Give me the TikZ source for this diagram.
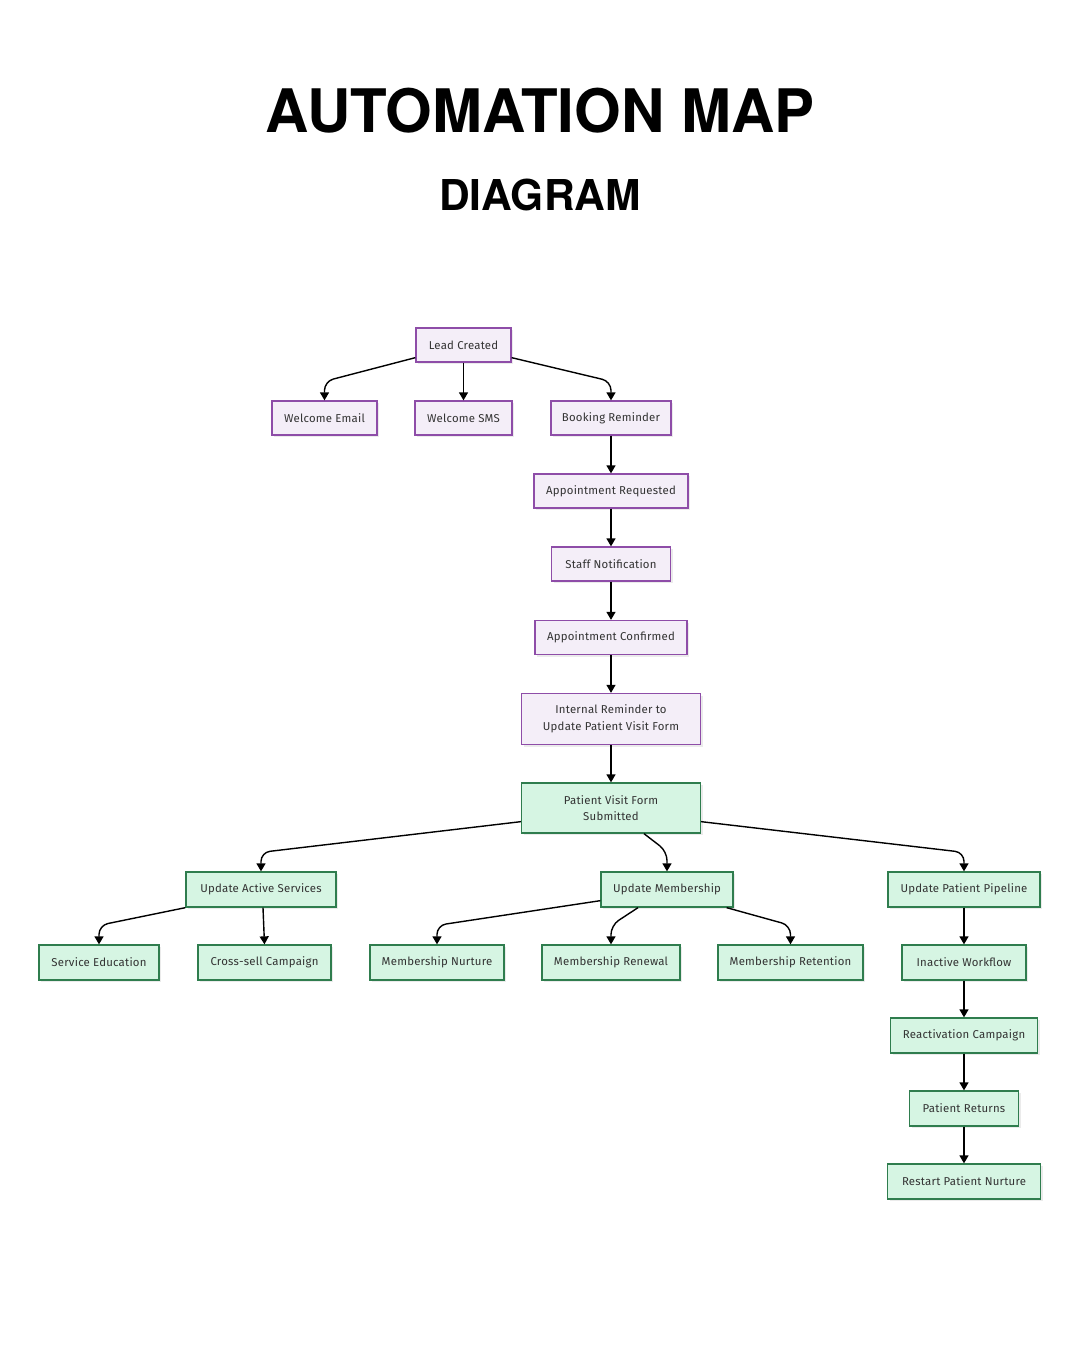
\documentclass[tikz,border=0pt]{standalone}
\usepackage{fontspec}
\setmainfont{Fira Sans}
\newfontfamily\titlefont{TeX Gyre Heros}
\usetikzlibrary{arrows.meta,shadows,calc}
\definecolor{pfill}{HTML}{F4EEF8}
\definecolor{pdraw}{HTML}{8E4DA8}
\definecolor{gfill}{HTML}{D6F5E3}
\definecolor{gdraw}{HTML}{2F7D4E}
\definecolor{txt}{HTML}{333333}
\tikzset{
  box/.style={draw, line width=1.3pt, inner sep=0pt, align=center, text=txt,
    font=\addfontfeatures{LetterSpace=2}\fontsize{11.4}{16.5}\selectfont,
    drop shadow={shadow xshift=2pt, shadow yshift=-2pt, fill=black, opacity=0.08}},
  pbox/.style={box, fill=pfill, draw=pdraw},
  gbox/.style={box, fill=gfill, draw=gdraw},
  arr/.style={line width=1.4pt, rounded corners=9pt, -{Triangle[width=9pt,length=8pt]}}
}
\begin{document}
\begin{tikzpicture}[x=1pt,y=-1pt]
\useasboundingbox (0,0) rectangle (1080,1350);
\node[anchor=base, font=\titlefont\bfseries\fontsize{60}{60}\selectfont] (title) at (540,132) {AUTOMATION MAP};
\node[anchor=base, font=\titlefont\bfseries\fontsize{42.5}{42}\selectfont] (subtitle) at (540,210) {DIAGRAM};

% purple nodes
\node[pbox, minimum width=95pt, minimum height=34pt] (lead) at (463.5,345) {Lead Created};
\node[pbox, minimum width=105pt, minimum height=34pt] (wemail) at (324.5,418) {Welcome Email};
\node[pbox, minimum width=97pt, minimum height=34pt] (wsms) at (463.5,418) {Welcome SMS};
\node[pbox, minimum width=120pt, minimum height=34pt] (book) at (611,418) {Booking Reminder};
\node[pbox, minimum width=154pt, minimum height=34pt] (areq) at (611,491) {Appointment Requested};
\node[pbox, minimum width=119pt, minimum height=34pt] (staff) at (611,564) {Staff Notification};
\node[pbox, minimum width=152pt, minimum height=34pt] (aconf) at (611,637.5) {Appointment Confirmed};
\node[pbox, minimum width=179pt, minimum height=51pt] (irem) at (611,719) {Internal Reminder to\\Update Patient Visit Form};

% green nodes
\node[gbox, minimum width=179pt, minimum height=50pt] (pvf) at (611,808) {Patient Visit Form\\Submitted};
\node[gbox, minimum width=150pt, minimum height=35pt] (uas) at (261,889.5) {Update Active Services};
\node[gbox, minimum width=132pt, minimum height=35pt] (um) at (667,889.5) {Update Membership};
\node[gbox, minimum width=152pt, minimum height=35pt] (upp) at (964,889.5) {Update Patient Pipeline};
\node[gbox, minimum width=120pt, minimum height=35pt] (sedu) at (99,962.5) {Service Education};
\node[gbox, minimum width=133pt, minimum height=35pt] (xsell) at (264.5,962.5) {Cross-sell Campaign};
\node[gbox, minimum width=134pt, minimum height=35pt] (mnur) at (437,962.5) {Membership Nurture};
\node[gbox, minimum width=138pt, minimum height=35pt] (mren) at (611,962.5) {Membership Renewal};
\node[gbox, minimum width=145pt, minimum height=35pt] (mret) at (790.5,962.5) {Membership Retention};
\node[gbox, minimum width=124pt, minimum height=35pt] (inact) at (964,962.5) {Inactive Workflow};
\node[gbox, minimum width=147pt, minimum height=35pt] (react) at (964,1035.5) {Reactivation Campaign};
\node[gbox, minimum width=109pt, minimum height=35pt] (pret) at (964,1108.5) {Patient Returns};
\node[gbox, minimum width=153pt, minimum height=35pt] (restart) at (964,1181.5) {Restart Patient Nurture};

% connectors
\draw[arr] ([yshift=5pt]lead.south west) -- ([yshift=19pt]wemail.north) -- (wemail.north);
\draw[arr] (lead.south) -- (lead.south |- wsms.north);
\draw[arr] ([yshift=5pt]lead.south east) -- ([yshift=19pt]book.north) -- (book.north);
\draw[arr] (book.south) -- (book.south |- areq.north);
\draw[arr] (areq.south) -- (areq.south |- staff.north);
\draw[arr] (staff.south) -- (staff.south |- aconf.north);
\draw[arr] (aconf.south) -- (aconf.south |- irem.north);
\draw[arr] (irem.south) -- (irem.south |- pvf.north);

\draw[arr] ([yshift=12pt]pvf.south west) -- ([yshift=19pt]uas.north) -- (uas.north);
\draw[arr] ([xshift=33pt]pvf.south) -- ([yshift=20pt]um.north) -- (um.north);
\draw[arr] ([yshift=12pt]pvf.south east) -- ([yshift=19pt]upp.north) -- (upp.north);

\draw[arr] (uas.south west) -- ([yshift=19pt]sedu.north) -- (sedu.north);
\draw[arr] ([xshift=2pt]uas.south) -- (xsell.north);
\draw[arr] ([yshift=7pt]um.south west) -- ([yshift=19pt]mnur.north) -- (mnur.north);
\draw[arr] ([xshift=-29pt]um.south) -- ([yshift=19pt]mren.north) -- (mren.north);
\draw[arr] ([xshift=-7pt]um.south east) -- ([yshift=19pt]mret.north) -- (mret.north);
\draw[arr] (upp.south) -- (upp.south |- inact.north);
\draw[arr] (inact.south) -- (inact.south |- react.north);
\draw[arr] (react.south) -- (react.south |- pret.north);
\draw[arr] (pret.south) -- (pret.south |- restart.north);
\end{tikzpicture}
\end{document}
